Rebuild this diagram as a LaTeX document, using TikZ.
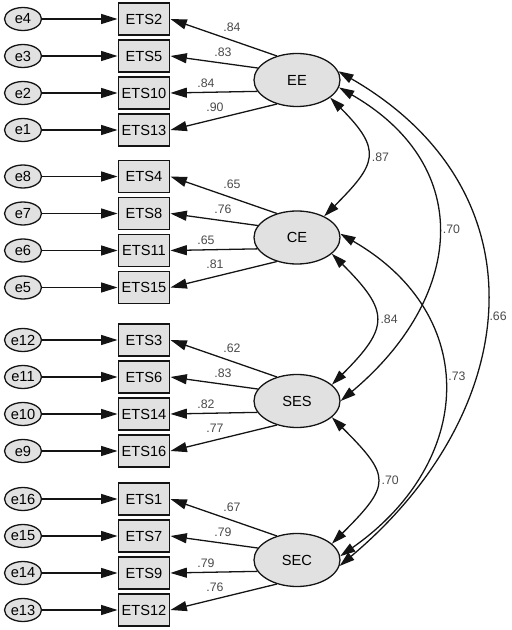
\documentclass[tikz,border=0pt]{standalone}
\usepackage{fontspec}
\setmainfont{Liberation Sans}
\usetikzlibrary{arrows.meta,shapes.geometric}
\definecolor{semfill}{HTML}{E1E1E1}
\definecolor{semline}{HTML}{141414}
\definecolor{semlabel}{HTML}{4A4A4A}
\tikzset{
  obsbox/.style={draw=semline,fill=semfill,line width=1.6pt,minimum width=1.53cm,
                 minimum height=0.96cm,inner sep=0pt,font=\fontsize{12.5}{14}\selectfont},
  errnode/.style={ellipse,draw=semline,fill=semfill,line width=1.1pt,minimum width=1.11cm,
                  minimum height=0.69cm,inner sep=0pt,font=\fontsize{12.5}{14}\selectfont},
  latnode/.style={ellipse,draw=semline,fill=semfill,line width=1.1pt,minimum width=2.58cm,
                  minimum height=1.59cm,inner sep=0pt,font=\fontsize{12.5}{14}\selectfont},
  regarrow/.style={semline,line width=1.1pt,-{Triangle[length=14pt,width=8.5pt]}},
  covarrow/.style={semline,line width=1.1pt,
                   {Triangle[length=13pt,width=8pt]}-{Triangle[length=13pt,width=8pt]}},
  coeff/.style={font=\fontsize{10.5}{12}\selectfont,text=semlabel,inner sep=1pt},
  covcoeff/.style={coeff,anchor=west,xshift=3pt},
}
\begin{document}
\begin{tikzpicture}[x=0.03cm,y=0.03cm]
  \useasboundingbox (0,0) rectangle (512,630);

  % Facteurs, items et erreurs
  \foreach \lat/\yy/\items in {EE/550/{2/4/.84, 5/3/.83, 10/2/.84, 13/1/.90},
      CE/392.5/{4/8/.65, 8/7/.76, 11/6/.65, 15/5/.81},
      SES/229/{3/12/.62, 6/11/.83, 14/10/.82, 16/9/.77},
      SEC/70/{1/16/.67, 7/15/.79, 9/14/.79, 12/13/.76}} {
    \node[latnode] (\lat) at (297,\yy) {\lat};
    \foreach \item/\err/\val [count=\k from 0] in \items {
      \pgfmathsetmacro{\ry}{\yy+61-37*\k}
      \pgfmathtruncatemacro{\ang}{130+33.4*\k}
      \pgfmathsetmacro{\lx}{{232,223,206,215}[\k]}
      \pgfmathsetmacro{\ly}{{-8,4,10,23}[\k]}
      \node[obsbox] (ETS\item) at (144,\ry) {ETS\item};
      \node[errnode] (e\err) at (23,\ry) {e\err};
      \draw[regarrow] (e\err) -- (ETS\item);
      \draw[regarrow] (\lat.\ang) -- (ETS\item.east);
      \node[coeff] (l\item) at (\lx,\ry+\ly) {\val};
    }
  }

  % Covariances
  \draw[covarrow] (EE.-28) to[out=-45,in=45,looseness=1.6]
        node[covcoeff] (r1) {.87} (CE.38);
  \draw[covarrow] (CE.-25) to[out=-45,in=45,looseness=1.6]
        node[covcoeff] (r2) {.84} (SES.25);
  \draw[covarrow] (SES.-25) to[out=-45,in=45,looseness=1.7]
        node[covcoeff] (r3) {.70} (SEC.25);
  \draw[covarrow] (EE.-10) to[out=-30,in=40,looseness=1.3]
        node[covcoeff,pos=0.48] (r4) {.70} (SES.0);
  \draw[covarrow] (CE.5) to[out=-30,in=35,looseness=1.3]
        node[covcoeff,pos=0.46] (r5) {.73} (SEC.5);
  \draw[covarrow] (EE.12) to[out=-30,in=40,looseness=1.24]
        node[coeff,anchor=west,pos=0.52,xshift=2pt] (r6) {.66} (SEC.-8);

\end{tikzpicture}
\end{document}
